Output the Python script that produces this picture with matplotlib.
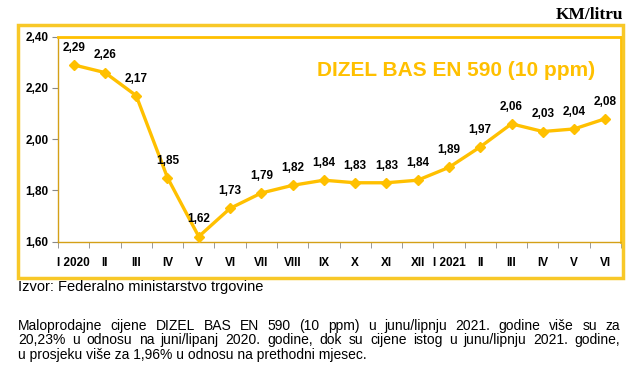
import matplotlib.pyplot as plt
from matplotlib.patches import Rectangle

months = ['I 2020', 'II', 'III', 'IV', 'V', 'VI', 'VII', 'VIII', 'IX', 'X', 'XI', 'XII',
          'I 2021', 'II', 'III', 'IV', 'V', 'VI']
prices = [2.29, 2.26, 2.17, 1.85, 1.62, 1.73, 1.79, 1.82, 1.84, 1.83, 1.83, 1.84,
          1.89, 1.97, 2.06, 2.03, 2.04, 2.08]
yticks = [1.60, 1.80, 2.00, 2.20, 2.40]

title = 'DIZEL BAS EN 590 (10 ppm)'
unit = 'KM/litru'
source = 'Izvor: Federalno ministarstvo trgovine'
paragraph = [
    'Maloprodajne cijene DIZEL BAS EN 590 (10 ppm) u junu/lipnju 2021. godine više su za',
    '20,23% u odnosu na juni/lipanj 2020. godine, dok su cijene istog u junu/lipnju 2021. godine,',
    'u prosjeku više za 1,96% u odnosu na prethodni mjesec.',
]

gold = '#FFC000'
plt.rcParams['font.family'] = ['Liberation Sans', 'DejaVu Sans']

W, H = 638, 379
fig = plt.figure(figsize=(W / 100, H / 100), dpi=100)

def fx(px):
    return px / W

def fy(py):
    return 1 - py / H

# outer frame around chart
fig.patches.append(Rectangle((fx(18), fy(278)), fx(623) - fx(18), fy(25) - fy(278),
                             transform=fig.transFigure, fill=False, edgecolor='#F8C828',
                             linewidth=2.5, zorder=0))

ax = fig.add_axes([fx(58), fy(241.7), fx(621) - fx(58), fy(36.7) - fy(241.7)])
x = [i + 0.5 for i in range(len(prices))]
ax.plot(x, prices, color=gold, linewidth=2.4, marker='D', markersize=5.5, zorder=3)
for xi, v in zip(x, prices):
    ax.annotate(f'{v:.2f}'.replace('.', ','), (xi, v), xytext=(0, 8),
                textcoords='offset points', ha='center', va='bottom',
                fontsize=8.5, fontweight='bold', color='black')

ax.set_xlim(0, len(prices))
ax.set_ylim(1.60, 2.40)
ax.set_yticks(yticks)
ax.set_yticklabels([f'{t:.2f}'.replace('.', ',') for t in yticks],
                   fontsize=8.5, fontweight='bold')
ax.set_xticks(x)
ax.set_xticklabels(months, fontsize=8.5, fontweight='bold')
ax.set_xticks(range(len(prices) + 1), minor=True)
ax.tick_params(axis='x', which='major', length=0, pad=11)
ax.tick_params(axis='x', which='minor', length=4, color='#888888', direction='out')
ax.tick_params(axis='y', length=4, color='#888888', direction='out', pad=3)

for side in ['top', 'right']:
    ax.spines[side].set_color(gold)
    ax.spines[side].set_linewidth(2)
for side in ['left', 'bottom']:
    ax.spines[side].set_color('#D4A017')
    ax.spines[side].set_linewidth(1)

fig.text(fx(456), fy(70), title, ha='center', va='center', color=gold,
         fontsize=15, fontweight='bold')
fig.text(fx(623), fy(15), unit, ha='right', va='center', fontsize=12.5,
         fontweight='bold', family=['Liberation Serif', 'DejaVu Serif'])
fig.text(fx(18), fy(287), source, ha='left', va='center', fontsize=10.5)

# justified paragraph: spread words over the full width for all but last line
left, right = 18, 620
psize = 10
renderer = fig.canvas.get_renderer()
line_y = [326, 340, 355]
for i, line in enumerate(paragraph):
    if i == len(paragraph) - 1:
        fig.text(fx(left), fy(line_y[i]), line, ha='left', va='center', fontsize=psize)
        continue
    words = line.split()
    texts = [fig.text(0, fy(line_y[i]), w, ha='left', va='center', fontsize=psize) for w in words]
    widths = [t.get_window_extent(renderer).width for t in texts]
    gap = (right - left - sum(widths)) / (len(words) - 1)
    pos = left
    for t, w in zip(texts, widths):
        t.set_x(fx(pos))
        pos += w + gap

fig.savefig('out.png', dpi=100)
